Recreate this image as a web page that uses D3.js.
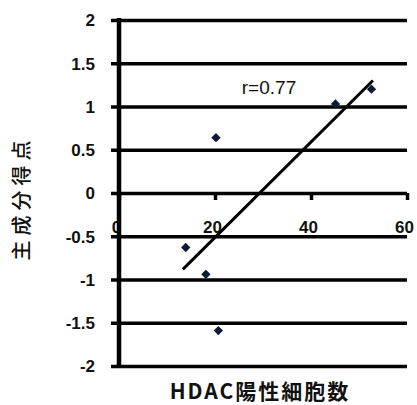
<!DOCTYPE html>
<html><head><meta charset="utf-8">
<script src="https://cdn.jsdelivr.net/npm/d3@7"></script>
<style>
body{margin:0;background:#fff;}
svg{display:block;}
</style></head>
<body>
<svg id="c" width="417" height="405"></svg>
<script>
const xVals = [13.9, 18.1, 20.2, 20.7, 45.1, 52.6];
const yVals = [-0.63, -0.94, 0.64, -1.59, 1.03, 1.2];
const xTicks = [0, 20, 40, 60];
const yTicks = [-2, -1.5, -1, -0.5, 0, 0.5, 1, 1.5, 2];
const rLabel = "r=0.77";
const xTitle = "HDAC陽性細胞数";
const yTitle = "主成分得点";

const svg = d3.select("#c");
const x = d3.scaleLinear().domain([0, 60]).range([119, 407]);
const y = d3.scaleLinear().domain([-2, 2]).range([366, 20]);
const numFont = "'Liberation Sans', sans-serif";

// y axis with gridlines
const yAxis = d3.axisLeft(y).tickValues(yTicks).tickSize(8).tickFormat(d => String(d));
const gy = svg.append("g").attr("transform", "translate(119,0)").call(yAxis);
gy.select(".domain").remove();
gy.selectAll(".tick line").attr("stroke", "#000").attr("stroke-width", 3.5);
gy.selectAll(".tick").append("line")
  .attr("x1", 0).attr("x2", x(60) - 119)
  .attr("stroke", "#000").attr("stroke-width", 3.5);
gy.selectAll(".tick text")
  .attr("x", -24).attr("dy", "0.35em")
  .attr("font-family", numFont).attr("font-weight", "bold").attr("font-size", 17).attr("fill", "#111");

// x axis (at y=0)
const xAxis = d3.axisBottom(x).tickValues(xTicks).tickSize(7).tickFormat(d => String(d));
const gx = svg.append("g").attr("transform", `translate(0,${y(0)})`).call(xAxis);
gx.select(".domain").remove();
gx.selectAll(".tick line").attr("stroke", "#000").attr("stroke-width", 3.5);
gx.selectAll(".tick text")
  .attr("y", 34).attr("dx", -3).attr("dy", "0.35em")
  .attr("font-family", numFont).attr("font-weight", "bold").attr("font-size", 17).attr("fill", "#111");
gx.lower();

// vertical axis line
svg.append("line").attr("x1", 119).attr("x2", 119).attr("y1", y(2) - 2).attr("y2", y(-2) + 2)
  .attr("stroke", "#000").attr("stroke-width", 4.5);

// regression line
const n = xVals.length;
const mx = d3.mean(xVals), my = d3.mean(yVals);
let sxy = 0, sxx = 0;
for (let i = 0; i < n; i++) { sxy += (xVals[i]-mx)*(yVals[i]-my); sxx += (xVals[i]-mx)**2; }
const slope = sxy / sxx, icpt = my - slope * mx;
const x0 = d3.min(xVals) - 0.6, x1 = d3.max(xVals) + 0.3;
svg.append("line")
  .attr("x1", x(x0)).attr("y1", y(icpt + slope * x0))
  .attr("x2", x(x1)).attr("y2", y(icpt + slope * x1))
  .attr("stroke", "#000").attr("stroke-width", 3);

// points
const pts = xVals.map((v, i) => [v, yVals[i]]);
svg.append("g").selectAll("path").data(pts).join("path")
  .attr("d", d3.symbol(d3.symbolDiamond2, 55))
  .attr("transform", d => `translate(${x(d[0])},${y(d[1])})`)
  .attr("fill", "#0d1a33");

// r label
svg.append("text").attr("x", 269).attr("y", 87).attr("dy", "0.35em").attr("text-anchor", "middle")
  .attr("font-family", numFont).attr("font-size", 19).attr("fill", "#111").text(rLabel);

// titles
svg.append("text").attr("x", 260).attr("y", 392).attr("dy", "0.35em").attr("text-anchor", "middle")
  .attr("font-family", "'Noto Sans CJK JP', sans-serif").attr("font-weight", 700).attr("font-size", 21)
  .style("letter-spacing", "2px").attr("fill", "#111").text(xTitle);
svg.append("text").attr("transform", "translate(22,198) rotate(-90)").attr("dy", "0.35em").attr("text-anchor", "middle")
  .attr("font-family", "'Noto Sans CJK JP', sans-serif").attr("font-weight", 500).attr("font-size", 20)
  .style("letter-spacing", "5px").attr("fill", "#111").text(yTitle);
</script>
</body></html>
